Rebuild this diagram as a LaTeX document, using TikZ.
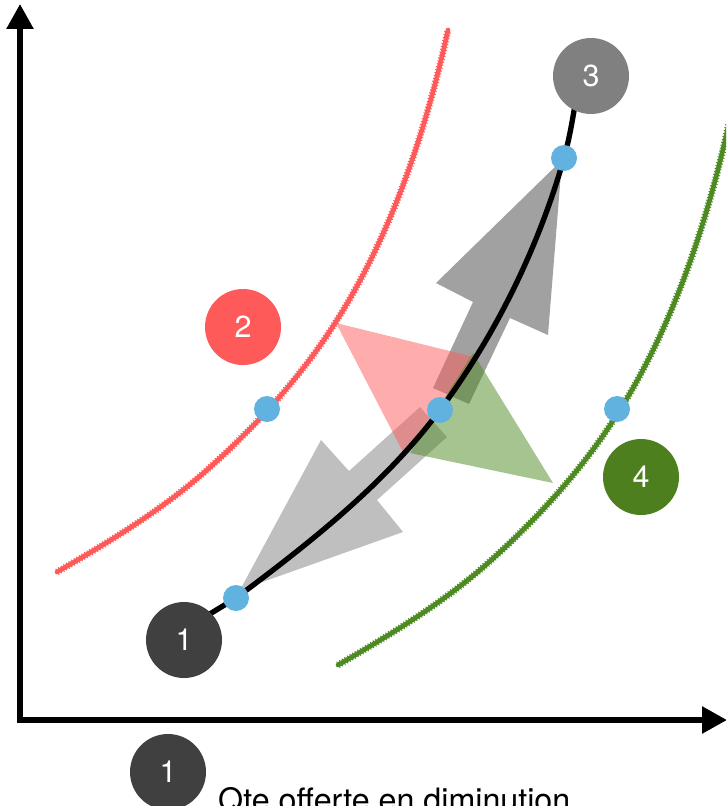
\documentclass[tikz,border=0pt]{standalone}
\usepackage{fontspec}
\setmainfont{TeX Gyre Heros}
\usetikzlibrary{arrows.meta}
\definecolor{rouge}{HTML}{FF5A5A}
\definecolor{vert}{HTML}{4E8A22}
\definecolor{vertfonce}{HTML}{4E7F1E}
\definecolor{bleu}{HTML}{62B2DF}
\definecolor{grisfonce}{HTML}{404040}
\definecolor{gris}{HTML}{808080}
\begin{document}
\begin{tikzpicture}[x=0.3mm,y=-0.3mm,line cap=butt,line join=miter,
    pastille/.style={circle,fill=#1,text=white,minimum size=22.8mm,inner sep=0pt,
                     font=\fontsize{26pt}{30pt}\selectfont},
    point/.style={circle,fill=bleu,minimum size=7.8mm,inner sep=0pt},
    craie/.style={draw=#1,line width=1.4mm,line cap=round,line join=round,
                  postaction={draw=#1,line width=2.1mm,line cap=butt,dash pattern=on 0.3mm off 0.6mm}},
    fleche/.style={fill=black,fill opacity=#1,draw=none}]
% ---- cadre (px, origine = coin haut gauche, y vers le bas) ----
\useasboundingbox (0,0) rectangle (726,806);
\clip (0,0) rectangle (726,806);
% ---- axes ----
\coordinate (O) at (20,720);\coordinate (Yhaut) at (20,4);\coordinate (Xbout) at (727,720);
\draw[line width=1.7mm,{Triangle[width=7.8mm,length=7.5mm]}-{Triangle[width=7.8mm,length=7.5mm]}]
  (Yhaut)--(O)--(Xbout);
% ---- courbes d'offre (rouge = ancienne, verte = decalee de (281,93)) ----
\def\offre{(57,572) .. controls (109,542) and (162,510) .. (207,470)
  .. controls (256,426) and (302,376) .. (337,320)
  .. controls (392,233) and (426,131) .. (448,30)}
\draw[craie=rouge] \offre;
\begin{scope}[shift={(281,93)}]
\draw[craie=vert] \offre;
\end{scope}
% ---- grosses fleches grises ----
\fill[fleche=0.25] (240,590)--(321,440)--(349,471)--(420,407)--(447,437)--(377,500)--(403,532)--cycle;
\fill[fleche=0.37] (562,160)--(548,335)--(510,318)--(469,404)--(433,388)--(473,302)--(436,283)--cycle;
% ---- triangles rouge et vert ----
\fill[rouge,fill opacity=0.5] (336,323)--(478,358)--(403,452)--cycle;
\fill[vert,fill opacity=0.5] (473,353)--(553,483)--(410,453)--cycle;
% ---- courbe noire (de 1 a 3) ----
\coordinate (p1) at (236,598);\coordinate (p2) at (440,410);\coordinate (p3) at (564,158);
\coordinate (k0) at (195,623);\coordinate (k4) at (578,88);
\draw[line width=1.6mm,line cap=round] (k0) -- (p1)
  .. controls (309.6,543) and (385,484) .. (p2)
  .. controls (495.7,334.8) and (538.3,248) .. (p3)
  .. controls (571,133.5) and (575,103) .. (k4);
% ---- pastilles et points ----
\node[pastille=grisfonce] (c1) at (184,640) {1};
\node[pastille=rouge]     (c2) at (243,327) {2};
\node[pastille=gris]      (c3) at (591,76)  {3};
\node[pastille=vertfonce] (c4) at (641,477) {4};
\node[pastille=grisfonce] (b1) at (168,772) {1};
\node[point] (d1) at (p1) {};
\node[point] (d2) at (p2) {};
\node[point] (d3) at (p3) {};
\node[point] (dr) at (267,409) {};
\node[point] (dv) at (617,409) {};
% ---- legende ----
\node[anchor=base west,inner sep=0pt,font=\fontsize{27.5pt}{32pt}\selectfont] (legende)
  at (218,811) {Qte offerte en diminution};
\end{tikzpicture}
\end{document}
